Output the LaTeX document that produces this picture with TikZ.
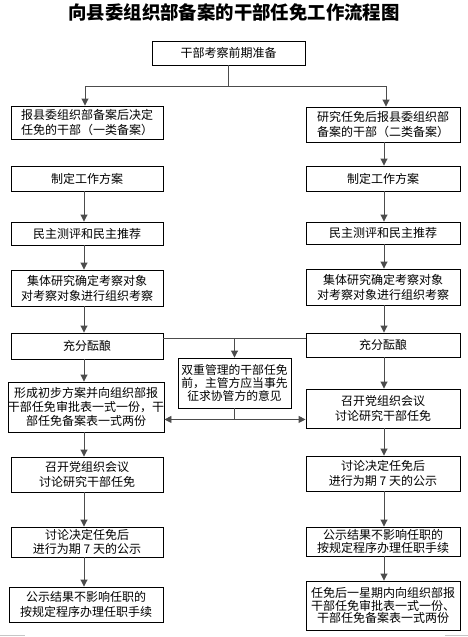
\documentclass[tikz,border=0pt]{standalone}
\usepackage{fontspec}
\setmainfont{Noto Sans CJK SC}
\usetikzlibrary{arrows.meta,positioning,calc}

\begin{document}
\begin{tikzpicture}[x=1pt,y=-1pt,
  box/.style={draw,line width=0.9pt,minimum width=152pt,align=center,
    inner sep=0pt,font=\fontsize{12}{15}\selectfont},
  tight/.style={font=\fontsize{12}{13.6}\selectfont},
  link/.style={draw=black!70,line width=0.9pt},
  arrow/.style={link,-{Triangle[length=7pt,width=7pt]}}
]
\useasboundingbox (0,0) rectangle (468,637);
\node[font=\fontsize{18.4}{20}\selectfont\bfseries] (title) at (234,12)
  {向县委组织部备案的干部任免工作流程图};
\node[box,minimum width=153pt,minimum height=24pt] (top) at (228.5,53) {干部考察前期准备};
\node[box,minimum height=33pt] (l1) at (87,122.5) {报县委组织部备案后决定\\任免的干部（一类备案）};
\node[box,minimum width=154pt,minimum height=35pt] (r1) at (383,124.5) {研究任免后报县委组织部\\备案的干部（二类备案）};
\node[box,minimum height=25pt] (l2) at (87,178.5) {制定工作方案};
\node[box,minimum width=154pt,minimum height=25pt] (r2) at (383,178.5) {制定工作方案};
\node[box,minimum height=23pt] (l3) at (87,233.5) {民主测评和民主推荐};
\node[box,minimum width=154pt,minimum height=22pt] (r3) at (383,233) {民主测评和民主推荐};
\node[box,minimum height=36pt] (l4) at (87,288) {集体研究确定考察对象\\对考察对象进行组织考察};
\node[box,minimum width=154pt,minimum height=36pt] (r4) at (383,287) {集体研究确定考察对象\\对考察对象进行组织考察};
\node[box,minimum height=26pt] (l5) at (87,346) {充分酝酿};
\node[box,minimum width=154pt,minimum height=24pt] (r5) at (383,345) {充分酝酿};
\node[box,minimum width=113pt,minimum height=50pt,
  font=\fontsize{11.8}{13}\selectfont] (mid) at (234.5,383)
  {双重管理的干部任免\\前，主管方应当事先\\征求协管方的意见};
\node[box,tight,minimum width=154pt,minimum height=50pt] (l6) at (86,407)
  {形成初步方案并向组织部报\\干部任免审批表一式一份，干\\部任免备案表一式两份};
\node[box,minimum width=154pt,minimum height=39pt] (r6) at (383,408.5) {召开党组织会议\\讨论研究干部任免};
\node[box,minimum height=35pt] (l7) at (87,474.5) {召开党组织会议\\讨论研究干部任免};
\node[box,minimum width=154pt,minimum height=35pt] (r7) at (383,473.5) {讨论决定任免后\\进行为期 7 天的公示};
\node[box,tight,minimum height=30pt] (l8) at (87,542) {讨论决定任免后\\进行为期 7 天的公示};
\node[box,tight,minimum width=154pt,minimum height=29pt] (r8) at (383,541.5) {公示结果不影响任职的\\按规定程序办理任职手续};
\node[box,minimum width=154pt,minimum height=35pt] (l9) at (86,604.5) {公示结果不影响任职的\\按规定程序办理任职手续};
\node[box,minimum width=154pt,minimum height=49pt,
  font=\fontsize{12}{12.8}\selectfont] (r9) at (383,605.5)
  {任免后一星期内向组织部报\\干部任免审批表一式一份、\\干部任免备案表一式两份};
\coordinate (lx) at (84,0);
\coordinate (rx) at (384,0);
\draw[link] (top.south) -- ++(0,21) coordinate (split);
\draw[arrow] (split) -| ([xshift=-2pt]l1.north);
\draw[arrow] (split) -| ([xshift=3pt]r1.north);
\foreach \a/\b in {l2/l3,l3/l4,l4/l5,l5/l6,l6/l7,l7/l8,l8/l9}
  \draw[arrow] (\a.south -| lx) -- (\b.north -| lx);
\foreach \a/\b in {r1/r2,r2/r3,r3/r4,r4/r5,r5/r6,r6/r7,r7/r8,r8/r9}
  \draw[arrow] (\a.south -| rx) -- (\b.north -| rx);
\draw[link] ([yshift=8pt]l5.east) coordinate (ml) -- (ml -| r5.west);
\draw[arrow] (ml -| mid.north) -- (mid.north);
\draw[link] (mid.south) -- ++(0,11) coordinate (mj);
\draw[arrow] (mj) -- (mj -| l6.east);
\draw[arrow] (mj) -- (mj -| r6.west);
\draw[gray!45,line width=1.5pt] (0,635.5) -- (25,635.5);
\draw[gray!45,line width=1.5pt] (445,635.5) -- (468,635.5);
\end{tikzpicture}
\end{document}
